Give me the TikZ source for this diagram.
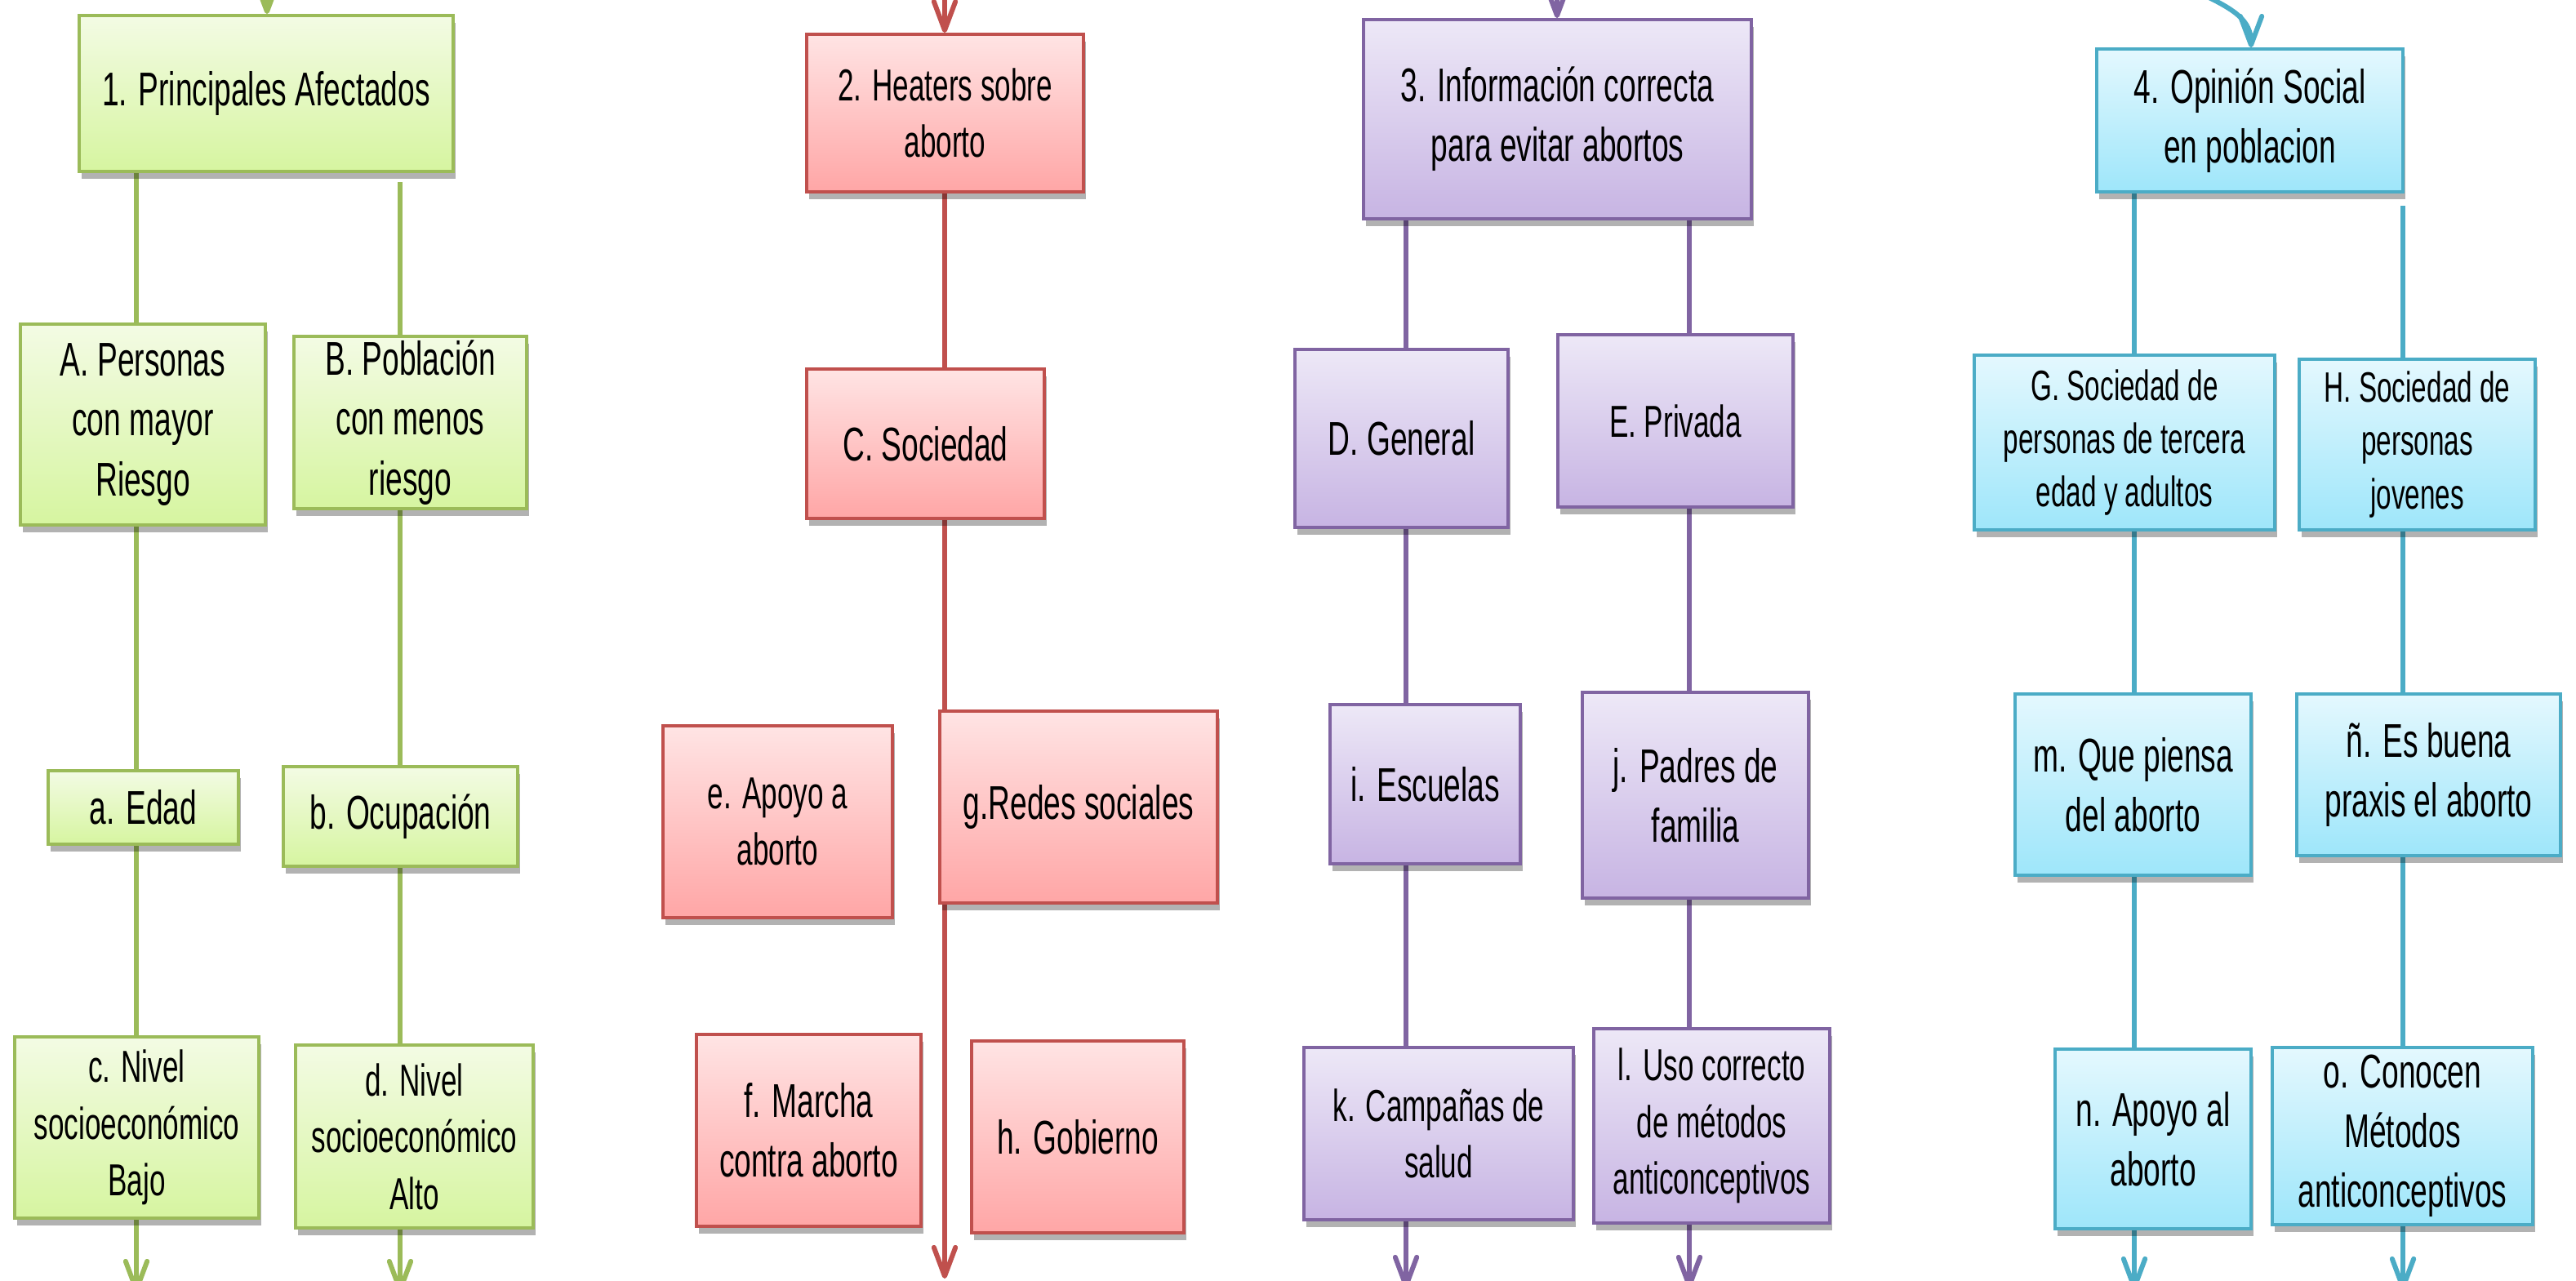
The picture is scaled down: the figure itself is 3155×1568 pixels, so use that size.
\documentclass[tikz,border=0pt]{standalone}
\usepackage{fontspec}
\setmainfont[FakeStretch=0.64]{Liberation Sans}
\usetikzlibrary{arrows.meta,shadows}
\definecolor{gB}{HTML}{9BBB59}\definecolor{gT}{RGB}{243,251,228}\definecolor{gD}{RGB}{214,245,160}
\definecolor{rB}{HTML}{C0504D}\definecolor{rT}{RGB}{255,228,228}\definecolor{rD}{RGB}{255,166,166}
\definecolor{pB}{HTML}{8064A2}\definecolor{pT}{RGB}{237,232,247}\definecolor{pD}{RGB}{199,180,227}
\definecolor{bB}{HTML}{4BACC6}\definecolor{bT}{RGB}{228,248,254}\definecolor{bD}{RGB}{158,230,250}
\pgfdeclarelayer{bg}\pgfsetlayers{bg,main}
\begin{document}
\begin{tikzpicture}[x=0.01cm,y=-0.01cm,
  box/.style={line width=1.1pt, inner sep=0pt, align=center,
    drop shadow={shadow xshift=0.8pt,shadow yshift=-2.5pt,opacity=0.3,fill=black}},
  gbox/.style={box,draw=gB,top color=gT,bottom color=gD},
  rbox/.style={box,draw=rB,top color=rT,bottom color=rD},
  pbox/.style={box,draw=pB,top color=pT,bottom color=pD},
  bbox/.style={box,draw=bB,top color=bT,bottom color=bD},
  fbig/.style={font=\fontsize{16.5pt}{20.8pt}\selectfont},
  fmed/.style={font=\fontsize{15.6pt}{19.8pt}\selectfont},
  fsml/.style={font=\fontsize{14.8pt}{18.6pt}\selectfont},
  sz/.style 2 args={minimum width=#1*0.01cm, minimum height=#2*0.01cm},
  conn/.style={line width=1.7pt},
  gline/.style={conn,draw=gB},
  rline/.style={conn,draw=rB},
  pline/.style={conn,draw=pB},
  bline/.style={conn,draw=bB},
  tip/.style={-{Straight Barb[length=10pt,width=7.5pt,round]}}
]
\useasboundingbox (0,0) rectangle (3155,1568);
\begin{pgfonlayer}{bg}
\fill[white] (0,0) rectangle (3155,1568);
\end{pgfonlayer}

% ---------- green ----------
\node[gbox,fbig,sz={458}{191}] (b1) at (326,114.5) {1. Principales Afectados};
\node[gbox,fbig,sz={300}{246}] (bA) at (175,520) {A. Personas\\con mayor\\Riesgo};
\node[gbox,fbig,sz={285}{211}] (bBB) at (502.5,517.5) {B. Población\\con menos\\riesgo};
\node[gbox,fbig,sz={233}{90}] (ba) at (175.5,989) {a. Edad};
\node[gbox,fbig,sz={287}{122}] (bb) at (490.5,1000) {b. Ocupación};
\node[gbox,fmed,sz={299}{222}] (bc) at (167.5,1381) {c. Nivel\\socioeconómico\\Bajo};
\node[gbox,fmed,sz={291}{224}] (bd) at (507.5,1392) {d. Nivel\\socioeconómico\\Alto};

% ---------- red ----------
\node[rbox,fmed,sz={339}{193}] (b2) at (1157.5,138.5) {2. Heaters sobre\\aborto};
\node[rbox,fbig,sz={291}{183}] (bC) at (1133.5,543.5) {C. Sociedad};
\node[rbox,fmed,sz={281}{235}] (be) at (952.5,1006.5) {e. Apoyo a\\aborto};
\node[rbox,fbig,sz={340}{235}] (bg) at (1321,988.5) {g.Redes sociales};
\node[rbox,fbig,sz={275}{235}] (bf) at (990.5,1384.5) {f. Marcha\\contra aborto};
\node[rbox,fbig,sz={260}{235}] (bh) at (1320,1392.5) {h. Gobierno};

% ---------- purple ----------
\node[pbox,fbig,sz={475}{244}] (b3) at (1907.5,146) {3. Información correcta\\para evitar abortos};
\node[pbox,fbig,sz={261}{218}] (bD) at (1716.5,537) {D. General};
\node[pbox,fmed,sz={288}{211}] (bE) at (2052,515.5) {E. Privada};
\node[pbox,fbig,sz={233}{195}] (bi) at (1745.5,960.5) {i. Escuelas};
\node[pbox,fbig,sz={277}{252}] (bj) at (2076.5,974) {j. Padres de\\familia};
\node[pbox,fmed,sz={330}{211}] (bk) at (1762,1388.5) {k. Campañas de\\salud};
\node[pbox,fmed,sz={289}{238}] (bl) at (2096.5,1379) {l. Uso correcto\\de métodos\\anticonceptivos};

% ---------- blue ----------
\node[bbox,fbig,sz={375}{175}] (b4) at (2755.5,147.5) {4. Opinión Social\\en poblacion};
\node[bbox,fsml,sz={368}{214}] (bG) at (2602,542) {G. Sociedad de\\personas de tercera\\edad y adultos};
\node[bbox,fsml,sz={289}{209}] (bH) at (2960.5,544.5) {H. Sociedad de\\personas\\jovenes};
\node[bbox,fbig,sz={289}{222}] (bm) at (2612.5,961) {m. Que piensa\\del aborto};
\node[bbox,fbig,sz={323}{198}] (bnn) at (2974.5,949) {ñ. Es buena\\praxis el aborto};
\node[bbox,fbig,sz={240}{220}] (bn) at (2637,1395) {n. Apoyo al\\aborto};
\node[bbox,fbig,sz={319}{217}] (bo) at (2942.5,1391.5) {o. Conocen\\Métodos\\anticonceptivos};

% ---------- column coordinates and free ends ----------
\coordinate (gx1) at (167,0);   \coordinate (gx2) at (490,223);
\coordinate (rx) at (1157,0);
\coordinate (px1) at (1722,0);  \coordinate (px2) at (2069,0);
\coordinate (bx1) at (2614,0);  \coordinate (bx2) at (2943,252);
\coordinate (gtop) at (327,-60);  \coordinate (rtop) at (1157,-60);
\coordinate (ptop) at (1907,-60); \coordinate (btop) at (2650,-30);
\coordinate (gend1) at (167,1583); \coordinate (gend2) at (490,1583);
\coordinate (rend) at (1157,1566);
\coordinate (pend1) at (1722,1578); \coordinate (pend2) at (2069,1578);
\coordinate (bend1) at (2614,1580); \coordinate (bend2) at (2943,1580);

\begin{pgfonlayer}{bg}
% green
\draw[gline,tip] (gtop) -- (b1.north -| gtop);
\draw[gline] (b1.south -| gx1) -- (bA.north -| gx1);
\draw[gline] (bA.south -| gx1) -- (ba.north -| gx1);
\draw[gline] (ba.south -| gx1) -- (bc.north -| gx1);
\draw[gline,tip] (bc.south -| gx1) -- (gend1);
\draw[gline] (gx2) -- (bBB.north -| gx2);
\draw[gline] (bBB.south -| gx2) -- (bb.north -| gx2);
\draw[gline] (bb.south -| gx2) -- (bd.north -| gx2);
\draw[gline,tip] (bd.south -| gx2) -- (gend2);
% red
\draw[rline,tip] (rtop) -- (b2.north -| rtop);
\draw[rline] (b2.south -| rx) -- (bC.north -| rx);
\draw[rline,tip] (bC.south -| rx) -- (rend);
% purple
\draw[pline,tip] (ptop) -- (b3.north -| ptop);
\draw[pline] (b3.south -| px1) -- (bD.north -| px1);
\draw[pline] (bD.south -| px1) -- (bi.north -| px1);
\draw[pline] (bi.south -| px1) -- (bk.north -| px1);
\draw[pline,tip] (bk.south -| px1) -- (pend1);
\draw[pline] (b3.south -| px2) -- (bE.north -| px2);
\draw[pline] (bE.south -| px2) -- (bj.north -| px2);
\draw[pline] (bj.south -| px2) -- (bl.north -| px2);
\draw[pline,tip] (bl.south -| px2) -- (pend2);
% blue
\draw[bline,tip] (btop) .. controls (2720,5) and (2757,15) .. (b4.north -| 2757,0);
\draw[bline] (b4.south -| bx1) -- (bG.north -| bx1);
\draw[bline] (bG.south -| bx1) -- (bm.north -| bx1);
\draw[bline] (bm.south -| bx1) -- (bn.north -| bx1);
\draw[bline,tip] (bn.south -| bx1) -- (bend1);
\draw[bline] (bx2) -- (bH.north -| bx2);
\draw[bline] (bH.south -| bx2) -- (bnn.north -| bx2);
\draw[bline] (bnn.south -| bx2) -- (bo.north -| bx2);
\draw[bline,tip] (bo.south -| bx2) -- (bend2);
\end{pgfonlayer}
\end{tikzpicture}
\end{document}
